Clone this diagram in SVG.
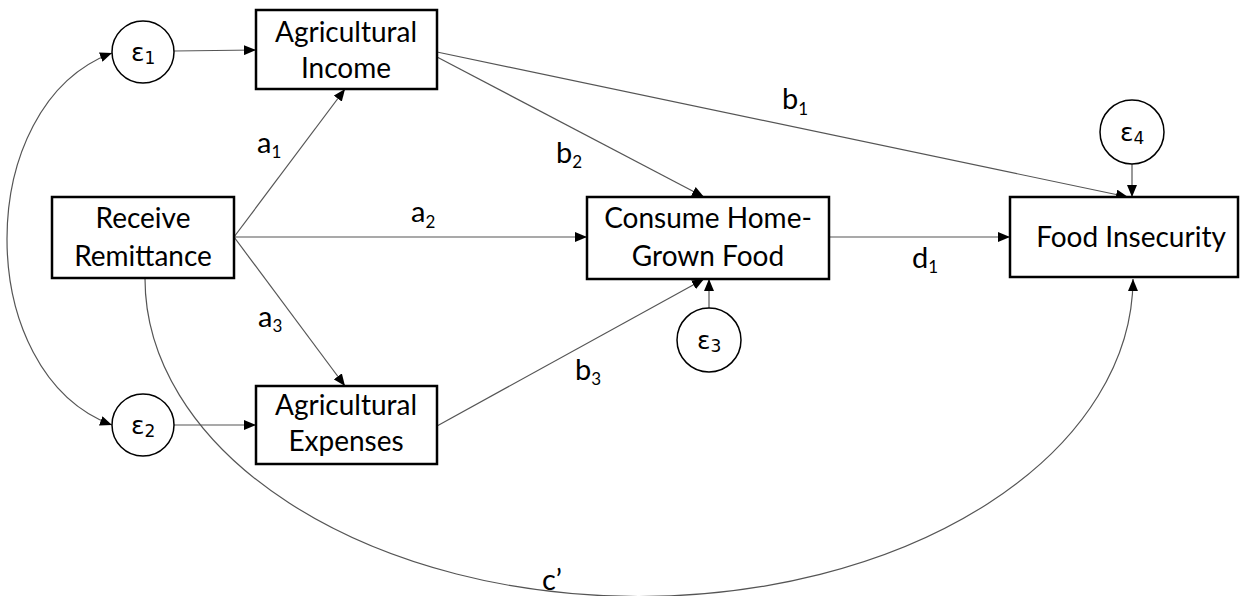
<svg xmlns="http://www.w3.org/2000/svg" width="1244" height="596" viewBox="0 0 1244 596">
<defs>
<marker id="arr" markerUnits="userSpaceOnUse" markerWidth="12" markerHeight="10" refX="12" refY="5" orient="auto-start-reverse">
<path d="M0,0 L12,5 L0,10 z" fill="#000"/>
</marker>
<style>
.box{fill:#fff;stroke:#000;stroke-width:2.5}
.err{fill:#fff;stroke:#000;stroke-width:1.5}
.ln{fill:none;stroke:#555;stroke-width:1.2}
.t{font-family:Lato,"DejaVu Sans",sans-serif;font-size:28px;fill:#000;text-anchor:middle}
.lb{font-family:Lato,"DejaVu Sans",sans-serif;font-size:29px;fill:#000}
.e{font-family:"DejaVu Sans",sans-serif;font-size:25px;fill:#000}
.s{font-size:17px}
</style>
</defs>
<rect width="1244" height="596" fill="#fff"/>
<g id="connectors">
<line class="ln" x1="174" y1="51" x2="256" y2="50" marker-end="url(#arr)"/>
<line class="ln" x1="174" y1="425" x2="256" y2="425" marker-end="url(#arr)"/>
<line class="ln" x1="234" y1="237" x2="345" y2="89" marker-end="url(#arr)"/>
<line class="ln" x1="234" y1="237" x2="587" y2="237" marker-end="url(#arr)"/>
<line class="ln" x1="234" y1="237" x2="345" y2="386" marker-end="url(#arr)"/>
<line class="ln" x1="437" y1="52" x2="1128" y2="197" marker-end="url(#arr)"/>
<line class="ln" x1="437" y1="57" x2="704" y2="197" marker-end="url(#arr)"/>
<line class="ln" x1="437" y1="426" x2="704" y2="279" marker-end="url(#arr)"/>
<line class="ln" x1="709" y1="308" x2="709" y2="279" marker-end="url(#arr)"/>
<line class="ln" x1="829" y1="237" x2="1010" y2="237" marker-end="url(#arr)"/>
<line class="ln" x1="1132" y1="164" x2="1132" y2="197" marker-end="url(#arr)"/>
<path class="ln" d="M145,278 A494,318 0 0 0 1133,279" marker-end="url(#arr)"/>
<path class="ln" d="M112,53 C-28,105 -28,373 112,425" marker-start="url(#arr)" marker-end="url(#arr)"/>
</g>
<g id="labels">
<text class="lb" x="257" y="153">a<tspan class="s" dy="5">1</tspan></text>
<text class="lb" x="411" y="222">a<tspan class="s" dy="6">2</tspan></text>
<text class="lb" x="258" y="327">a<tspan class="s" dy="5">3</tspan></text>
<text class="lb" x="782" y="109">b<tspan class="s" dy="6">1</tspan></text>
<text class="lb" x="556" y="163">b<tspan class="s" dy="5">2</tspan></text>
<text class="lb" x="575" y="380">b<tspan class="s" dy="5">3</tspan></text>
<text class="lb" x="912" y="268">d<tspan class="s" dy="5">1</tspan></text>
<text class="lb" x="542" y="590">c’</text>
</g>
<g id="e1"><circle class="err" cx="143" cy="52" r="31"/><text class="e" x="131" y="61">ε<tspan class="s" dy="3">1</tspan></text></g>
<g id="e2"><circle class="err" cx="143" cy="425" r="31"/><text class="e" x="131" y="434">ε<tspan class="s" dy="3">2</tspan></text></g>
<g id="e3"><circle class="err" cx="709" cy="340" r="32"/><text class="e" x="697" y="349">ε<tspan class="s" dy="3">3</tspan></text></g>
<g id="e4"><circle class="err" cx="1132" cy="132" r="32"/><text class="e" x="1120" y="141">ε<tspan class="s" dy="3">4</tspan></text></g>
<g id="agri-income"><rect class="box" x="256" y="10" width="181" height="79"/><text class="t" x="346" y="42">Agricultural</text><text class="t" x="346" y="78">Income</text></g>
<g id="remittance"><rect class="box" x="52" y="197" width="182" height="81"/><text class="t" x="143" y="228">Receive</text><text class="t" x="143" y="266">Remittance</text></g>
<g id="agri-expenses"><rect class="box" x="256" y="386" width="181" height="78"/><text class="t" x="346" y="415">Agricultural</text><text class="t" x="346" y="451">Expenses</text></g>
<g id="consume"><rect class="box" x="587" y="197" width="242" height="82"/><text class="t" x="708" y="228">Consume Home-</text><text class="t" x="708" y="266">Grown Food</text></g>
<g id="food-insecurity"><rect class="box" x="1010" y="197" width="228" height="80"/><text class="t" x="1131" y="247">Food Insecurity</text></g>
</svg>
